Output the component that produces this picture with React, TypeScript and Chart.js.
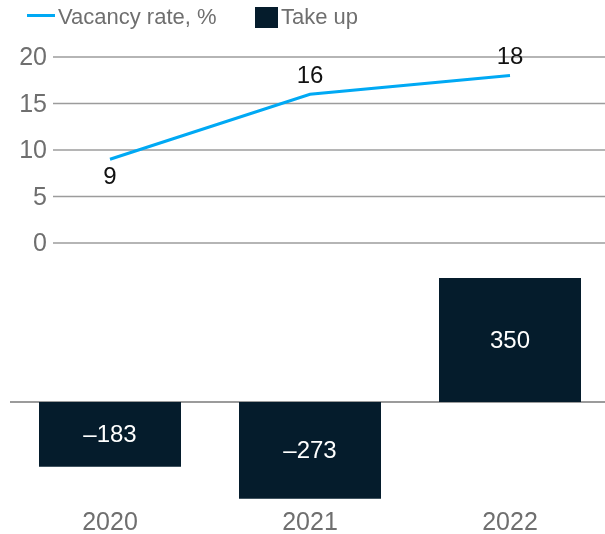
import React, { useEffect, useRef } from "react";
import { Chart, registerables } from "chart.js";

Chart.register(...registerables);

const years = ["2020", "2021", "2022"];
const vacancyRate = [9, 16, 18];
const takeUp = [-183, -273, 350];
const rateTicks = [0, 5, 10, 15, 20];

const FONT = '"Liberation Sans", Arial, sans-serif';
const BLUE = "#00a9f4";
const NAVY = "#051c2c";
const GRAY_TEXT = "#6f6f6f";

const fmt = (v: number) => (v < 0 ? "\u2013" + Math.abs(v) : String(v));

export default function App() {
  const ref = useRef<HTMLCanvasElement>(null);

  useEffect(() => {
    if (!ref.current) return;

    const overlay = {
      id: "overlay",
      beforeDatasetsDraw(chart: any) {
        const { ctx, chartArea } = chart;
        const y = chart.scales.y;
        const y2 = chart.scales.y2;
        ctx.save();
        ctx.strokeStyle = "#9c9c9c";
        ctx.lineWidth = 1.5;
        ctx.font = `25px ${FONT}`;
        ctx.fillStyle = GRAY_TEXT;
        ctx.textAlign = "right";
        ctx.textBaseline = "middle";
        rateTicks.forEach((v) => {
          const py = y.getPixelForValue(v);
          ctx.beginPath();
          ctx.moveTo(chartArea.left + 43, py);
          ctx.lineTo(chartArea.right, py);
          ctx.stroke();
          ctx.fillText(String(v), chartArea.left + 37, py + 1.5);
        });
        const z = y2.getPixelForValue(0);
        ctx.strokeStyle = "#7a7a7a";
        ctx.beginPath();
        ctx.moveTo(chartArea.left, z);
        ctx.lineTo(chartArea.right, z);
        ctx.stroke();
        ctx.restore();
      },
      afterDatasetsDraw(chart: any) {
        const { ctx } = chart;
        ctx.save();
        ctx.textAlign = "center";
        ctx.textBaseline = "middle";
        ctx.font = `24px ${FONT}`;
        const lineMeta = chart.getDatasetMeta(0);
        lineMeta.data.forEach((el: any, i: number) => {
          ctx.fillStyle = "#111111";
          const dy = i === 0 ? 18 : -18;
          ctx.fillText(fmt(vacancyRate[i]), el.x, el.y + dy);
        });
        const barMeta = chart.getDatasetMeta(1);
        barMeta.data.forEach((el: any, i: number) => {
          ctx.fillStyle = "#ffffff";
          ctx.fillText(fmt(takeUp[i]), el.x, (el.y + el.base) / 2 + 1);
        });
        ctx.restore();
      },
    };

    const chart = new Chart(ref.current, {
      data: {
        labels: years,
        datasets: [
          {
            type: "line",
            label: "Vacancy rate, %",
            data: vacancyRate,
            yAxisID: "y",
            borderColor: BLUE,
            backgroundColor: BLUE,
            borderWidth: 3,
            pointRadius: 0,
            tension: 0,
          },
          {
            type: "bar",
            label: "Take up",
            data: takeUp,
            yAxisID: "y2",
            backgroundColor: NAVY,
            barPercentage: 0.71,
            categoryPercentage: 1,
          },
        ],
      } as any,
      options: {
        animation: false,
        responsive: true,
        maintainAspectRatio: false,
        layout: { padding: { top: 40, left: 10, right: 10, bottom: 1 } },
        plugins: {
          legend: { display: false },
          tooltip: { enabled: false },
        },
        scales: {
          x: {
            offset: true,
            grid: { display: false, drawTicks: false },
            border: { display: false },
            afterFit: (scale: any) => {
              scale.height = 33;
            },
            ticks: {
              color: GRAY_TEXT,
              padding: 11,
              font: { family: FONT, size: 25, lineHeight: 1 },
            },
          },
          y: {
            display: false,
            min: -27.634,
            max: 21.828,
          },
          y2: {
            display: false,
            min: -276.6,
            max: 1021.8,
          },
        },
      } as any,
      plugins: [overlay],
    });

    return () => chart.destroy();
  }, []);

  return (
    <div
      style={{
        position: "fixed",
        left: 0,
        top: 0,
        width: 605,
        height: 534,
        overflow: "hidden",
        background: "#ffffff",
        fontFamily: FONT,
      }}
    >
      <div style={{ position: "absolute", left: 0, top: 0, width: 620, height: 534 }}>
        <canvas ref={ref} />
      </div>
      <div
        style={{
          position: "absolute",
          left: 27,
          top: 14,
          width: 28,
          height: 3,
          background: BLUE,
        }}
      />
      <div
        style={{
          position: "absolute",
          left: 58,
          top: 6,
          fontSize: 22,
          lineHeight: "22px",
          color: GRAY_TEXT,
          whiteSpace: "nowrap",
        }}
      >
        Vacancy rate, %
      </div>
      <div
        style={{
          position: "absolute",
          left: 255,
          top: 7,
          width: 23,
          height: 21,
          background: NAVY,
        }}
      />
      <div
        style={{
          position: "absolute",
          left: 281,
          top: 6,
          fontSize: 22,
          lineHeight: "22px",
          color: GRAY_TEXT,
          whiteSpace: "nowrap",
        }}
      >
        Take up
      </div>
    </div>
  );
}
